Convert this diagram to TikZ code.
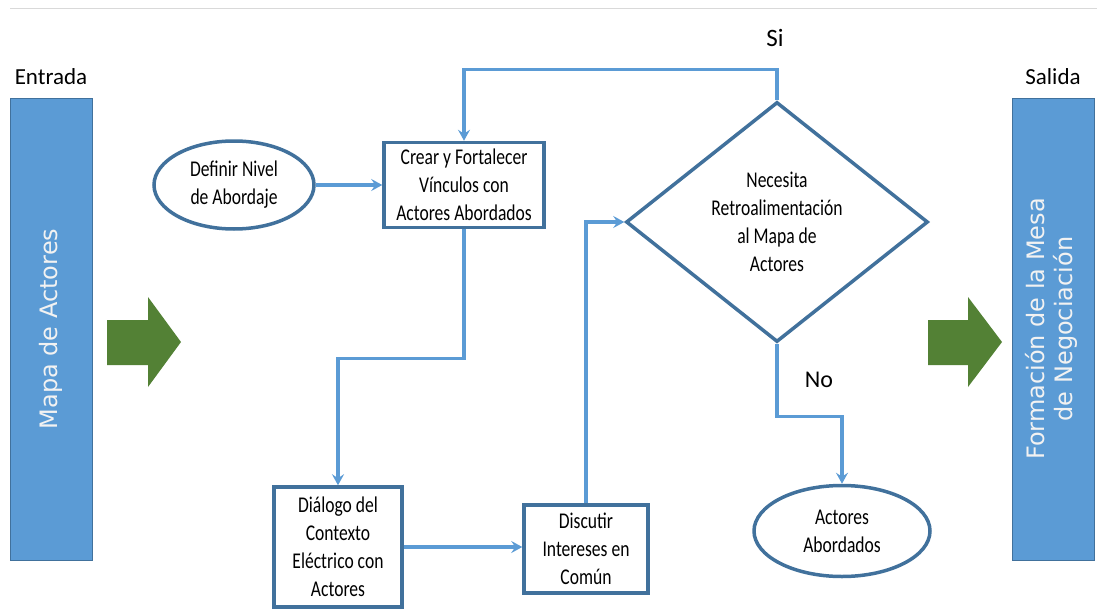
\documentclass[tikz,border=0pt]{standalone}
\usepackage{fontspec}
\setmainfont{Carlito}
\newfontfamily\boxfont{Carlito}[FakeStretch=0.78]
\newfontfamily\sidefont{DejaVu Sans}
\usetikzlibrary{shapes.geometric,arrows.meta}
\definecolor{linkblue}{HTML}{5B9BD5}
\definecolor{edgeblue}{HTML}{41719C}
\definecolor{fillblue}{HTML}{5B9BD5}
\definecolor{arrowgreen}{HTML}{538135}

\begin{document}
\begin{tikzpicture}
[x=1pt, y=-1pt, font=\boxfont\fontsize{22.5}{28}\selectfont]
\tikzstyle{process}=[rectangle, draw=edgeblue, line width=3.5pt, fill=white, align=center, inner sep=2pt]
\tikzstyle{decision}=[diamond, draw=edgeblue, line width=3.5pt, align=center, inner sep=0pt, minimum width=302pt, minimum height=240pt]
\tikzstyle{terminal}=[ellipse, draw=edgeblue, line width=3.5pt, align=center, inner sep=0pt]
\tikzstyle{sidebox}=[rectangle, draw=edgeblue, line width=1pt, fill=fillblue, text=white!95!black, font=\sidefont\fontsize{24}{28}\selectfont, minimum width=82pt, minimum height=462pt, inner sep=0pt]
\tikzstyle{tag}=[font=\rmfamily\fontsize{23}{26}\selectfont, inner sep=0pt]
\tikzstyle{flow}=[draw=linkblue, line width=3.2pt, -{Stealth[length=11pt, width=12pt, inset=4pt]}]
\useasboundingbox (0,0) rectangle (1097,610);
\draw[black!15, line width=1pt] (10,9) -- (1097,9);

\node[sidebox, label={[tag, label distance=13pt]above:Entrada}] (mapa) at (51,329) {\rotatebox{90}{Mapa de Actores}};
\node[sidebox, label={[tag, label distance=13pt]above:Salida}] (mesa) at (1053,329)
  {\rotatebox{90}{\begin{tabular}{@{}c@{}}Formación de la Mesa\\de Negociación\end{tabular}}};

\fill[arrowgreen] (107,320) -- (148,320) -- (148,297) -- (181,342) -- (148,387) -- (148,365) -- (107,365) -- cycle;
\fill[arrowgreen] (928,320) -- (968,320) -- (968,297) -- (1002,342) -- (968,387) -- (968,365) -- (928,365) -- cycle;

\node[terminal, minimum width=160pt, minimum height=88pt] (nivel) at (234,185) {Definir Nivel\\de Abordaje};
\node[process, minimum width=160pt, minimum height=85pt] (crear) at (464,185) {Crear y Fortalecer\\Vínculos con\\Actores Abordados};
\node[decision] (retro) at (777,222) {Necesita\\Retroalimentación\\al Mapa de\\Actores};
\node[process, minimum width=128pt, minimum height=120pt] (dialogo) at (338,547) {Diálogo del\\Contexto\\Eléctrico con\\Actores};
\node[process, minimum width=124pt, minimum height=88pt] (discutir) at (586,549) {Discutir\\Intereses en\\Común};
\node[terminal, minimum width=176pt, minimum height=91pt] (abordados) at (842,531) {Actores\\Abordados};

\node[tag, font=\rmfamily\fontsize{25}{28}\selectfont] (si) at (775,38) {Si};
\node[tag, font=\rmfamily\fontsize{24}{28}\selectfont] (no) at (819,380) {No};

\draw[flow] (nivel.east) -- (crear.west);
\draw[flow] (retro.north) -- ++(0,-31) -| (crear.north);
\draw[flow] (crear.south) -- ++(0,129) -| (dialogo.north);
\draw[flow] (dialogo.east) -- (dialogo.east -| discutir.west);
\draw[flow] (discutir.north) |- (retro.west);
\draw[flow] (retro.south) -- ++(0,73) -| (abordados.north);
\end{tikzpicture}
\end{document}
